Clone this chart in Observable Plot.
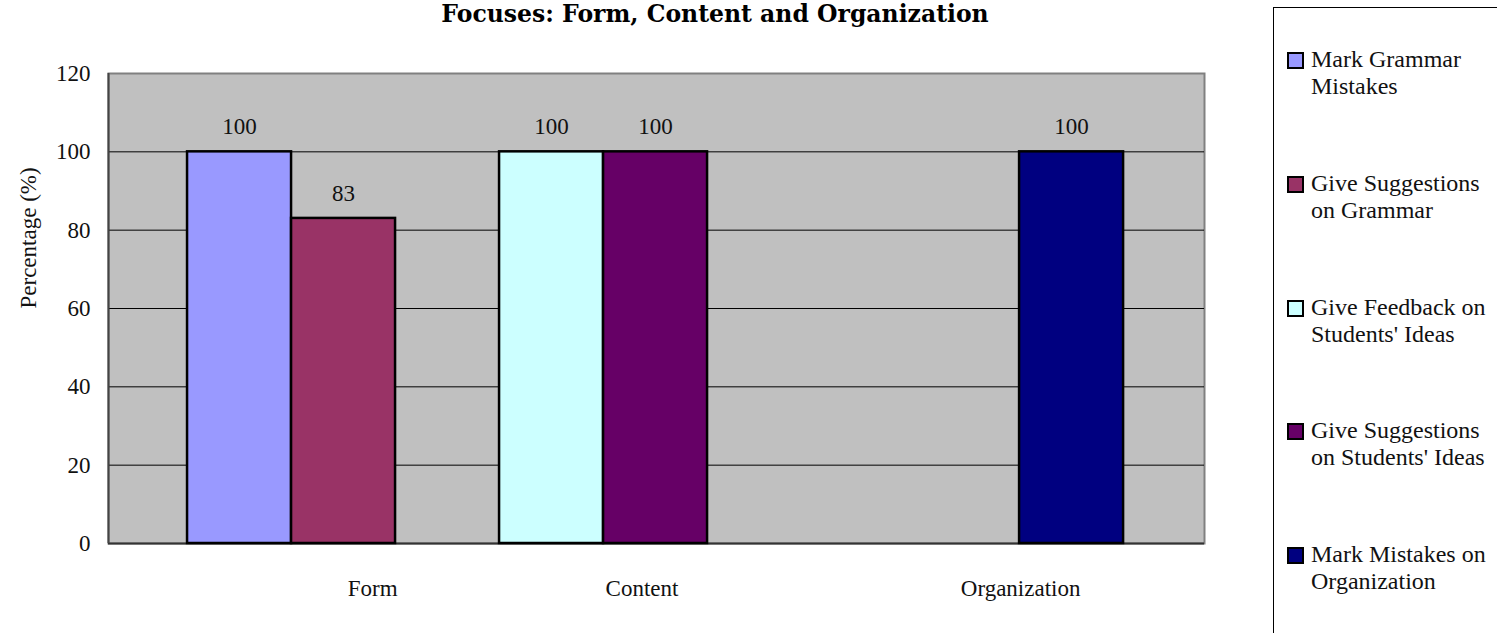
<!DOCTYPE html>
<html>
<head>
<meta charset="utf-8">
<script src="https://cdn.jsdelivr.net/npm/d3@7"></script>
<script src="https://cdn.jsdelivr.net/npm/@observablehq/plot@0.6"></script>
<style>
  html, body { margin: 0; padding: 0; background: #fff; }
  #wrap { position: relative; width: 1497px; height: 633px; overflow: hidden; font-family: "Liberation Serif", serif; }
  #title { position: absolute; left: 0; width: 1430px; text-align: center; top: 1px; font-family: "DejaVu Serif", serif; font-weight: bold; font-size: 23.5px; line-height: 26px; color: #000; white-space: nowrap; }
  #chart { position: absolute; left: 0; top: 0; }
  #legend { position: absolute; left: 1273px; top: 7px; width: 260px; height: 700px; border: 1px solid #000; background: #fff; }
  .item { position: absolute; left: 13px; font-size: 24px; line-height: 27px; color: #111; }
  .sw { position: absolute; left: 0; top: 6px; width: 13px; height: 13px; border: 2px solid #000; }
  .lab { position: absolute; left: 24px; top: 0; white-space: nowrap; }
</style>
</head>
<body>
<div id="wrap">
  <div id="title">Focuses: Form, Content and Organization</div>
  <div id="chart"></div>
  <div id="legend"></div>
</div>
<script>
// ---- data ----
const categories = ["Form", "Content", "Organization"];
const seriesNames = [
  "Mark Grammar Mistakes",
  "Give Suggestions on Grammar",
  "Give Feedback on Students' Ideas",
  "Give Suggestions on Students' Ideas",
  "Mark Mistakes on Organization"
];
const legendLines = [
  ["Mark Grammar", "Mistakes"],
  ["Give Suggestions", "on Grammar"],
  ["Give Feedback on", "Students' Ideas"],
  ["Give Suggestions", "on Students' Ideas"],
  ["Mark Mistakes on", "Organization"]
];
const seriesColors = ["#9999FF", "#993366", "#CCFFFF", "#660066", "#000080"];
// value of each series in each category (null = no bar)
const formValues         = [100, 83, null, null, null];
const contentValues      = [null, null, 100, 100, null];
const organizationValues = [null, null, null, null, 100];
const yTicks = [0, 20, 40, 60, 80, 100, 120];

// ---- layout (slot positions of bars along the x axis, as in the original) ----
const barSlot = [0, 1, 3, 4, 8];
const categoryLabelSlot = [1.78, 4.37, 8.01];

const valuesByCategory = [formValues, contentValues, organizationValues];
const bars = [];
valuesByCategory.forEach((vals, ci) => {
  vals.forEach((v, si) => {
    if (v != null) bars.push({category: categories[ci], series: seriesNames[si], si, value: v, slot: barSlot[si]});
  });
});

const chart = Plot.plot({
  width: 1260,
  height: 633,
  marginLeft: 108,
  marginRight: 56,
  marginTop: 73,
  marginBottom: 90,
  style: {fontFamily: "Liberation Serif, serif", fontSize: "23px", color: "#111", background: "transparent"},
  x: {type: "linear", domain: [-0.76, 9.778], axis: null},
  y: {domain: [0, 120], axis: null},
  marks: [
    Plot.frame({fill: "#C0C0C0", stroke: "#808080", strokeWidth: 2}),
    Plot.ruleY(yTicks.filter(d => d > 0 && d < 120), {stroke: "#000", strokeWidth: 1}),
    Plot.ruleY([0], {stroke: "#333", strokeWidth: 2}),
    Plot.ruleX([-0.76], {stroke: "#444", strokeWidth: 2}),
    Plot.rect(bars, {
      x1: d => d.slot, x2: d => d.slot + 1, y1: 0, y2: "value",
      fill: d => seriesColors[d.si], stroke: "#000", strokeWidth: 2.5
    }),
    Plot.text(bars, {x: d => d.slot + 0.5, y: "value", text: d => String(d.value), dy: -25, fill: "#111", fontSize: 23}),
    Plot.axisY({ticks: yTicks, tickSize: 0, tickPadding: 18, label: null, fontSize: 23}),
    Plot.axisX({ticks: categoryLabelSlot, tickSize: 0, tickPadding: 36, label: null,
      tickFormat: d => categories[categoryLabelSlot.indexOf(d)], fontSize: 23}),
    Plot.text(["Percentage (%)"], {frameAnchor: "left", rotate: -90, dx: -80, text: d => d, fill: "#111", fontSize: 23})
  ]
});
document.getElementById("chart").appendChild(chart);

// legend
const legend = document.getElementById("legend");
seriesNames.forEach((name, i) => {
  const item = document.createElement("div");
  item.className = "item";
  item.style.top = (38 + i * 123.8) + "px";
  const sw = document.createElement("div");
  sw.className = "sw";
  sw.style.background = seriesColors[i];
  const lab = document.createElement("div");
  lab.className = "lab";
  lab.innerHTML = legendLines[i][0] + "<br>" + legendLines[i][1];
  lab.title = name;
  item.appendChild(sw);
  item.appendChild(lab);
  legend.appendChild(item);
});
</script>
</body>
</html>
